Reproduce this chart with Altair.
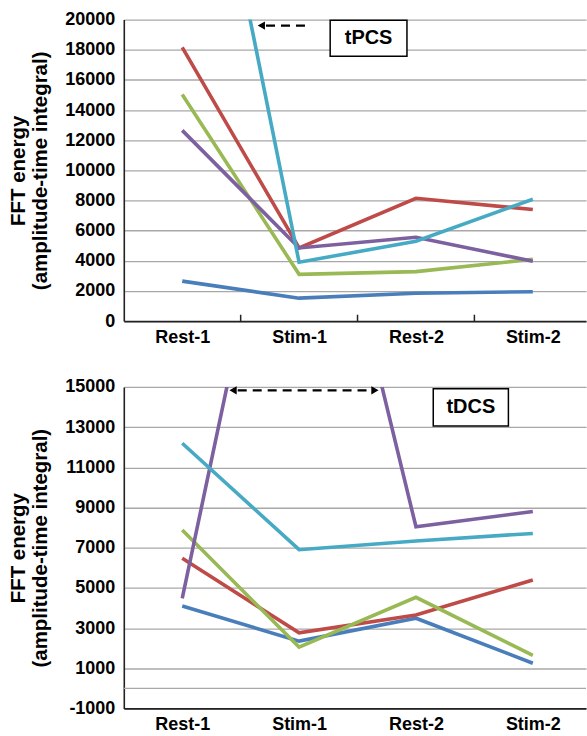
import altair as alt
import pandas as pd

categories = ["Rest-1", "Stim-1", "Rest-2", "Stim-2"]
series_names = ["S1", "S2", "S3", "S4", "S5"]
series_colors = ["#4A7EBB", "#BE4B48", "#98B954", "#7D60A0", "#46AAC5"]

# tPCS panel (cyan Rest-1 is off the top of the axis)
tpcs_blue = [2650, 1520, 1850, 1950]
tpcs_red = [18160, 4850, 8150, 7400]
tpcs_green = [15030, 3100, 3280, 4100]
tpcs_purple = [12650, 4850, 5560, 3970]
tpcs_cyan = [42300, 3900, 5300, 8080]

# tDCS panel (purple Stim-1 is off the top of the axis)
tdcs_blue = [4100, 2350, 3490, 1250]
tdcs_red = [6470, 2760, 3650, 5390]
tdcs_green = [7880, 2050, 4530, 1640]
tdcs_purple = [4480, 32000, 8040, 8800]
tdcs_cyan = [12200, 6900, 7330, 7710]

y_title = ["FFT energy", "(amplitude-time integral)"]
tpcs_ticks = list(range(0, 20001, 2000))
tdcs_ticks = list(range(-1000, 15001, 2000))
band_ticks = [0.5, 1.5, 2.5]

# annotations (data coordinates)
tpcs_label = {"text": "tPCS", "x": 1.266, "x2": 1.923, "y": 19950, "y2": 17570}
tpcs_arrow = {"y": 19600, "x_from": 1.08, "x_tip": 0.677}
tdcs_label = {"text": "tDCS", "x": 2.148, "x2": 2.791, "y": 14915, "y2": 13062}
tdcs_arrow = {"y": 14831, "x_left": 0.435, "x_right": 1.649}

X_DOMAIN = [-0.5, 3.455]
FONT = "Liberation Sans"
label_expr = "[" + ",".join("'%s'" % c for c in categories) + "][datum.value]"


def long_df(vals_list):
    rows = []
    for k, (s, vals) in enumerate(zip(series_names, vals_list)):
        for i, v in enumerate(vals):
            rows.append({"series": s, "pos": i, "value": v, "k": k})
    return pd.DataFrame(rows)


def panel(vals_list, domain, yticks, height, label, arrows, tick_layer=False, zero_rule=False):
    df = long_df(vals_list)
    x = alt.X("pos:Q", scale=alt.Scale(domain=X_DOMAIN, nice=False, zero=False),
              axis=alt.Axis(values=[0, 1, 2, 3], labelExpr=label_expr, ticks=False, grid=False,
                            title=None, labelFontSize=18, labelFontWeight="bold", labelPadding=7,
                            labelFont=FONT, labelColor="black", domainColor="#222", domainWidth=1.6))
    y = alt.Y("value:Q", scale=alt.Scale(domain=domain, nice=False, zero=False),
              axis=alt.Axis(values=yticks, title=y_title, ticks=False, labelFontSize=18,
                            labelExpr="'' + datum.value", labelOverlap=False,
                            labelFontWeight="bold", labelFont=FONT, labelColor="black", labelPadding=9,
                            titleFont=FONT, titleFontSize=20.5, titleFontWeight="bold", titleColor="black",
                            titleLineHeight=22, titlePadding=14, domainColor="#222", domainWidth=1.6,
                            gridColor="#a8a8a8", gridWidth=1.3))
    lines = alt.Chart(df).mark_line(clip=True, strokeWidth=3.6).encode(
        x=x, y=y,
        color=alt.Color("series:N", scale=alt.Scale(domain=series_names, range=series_colors), legend=None),
        order=alt.Order("pos:Q"),
    )
    layers = []
    if zero_rule:
        layers.append(alt.Chart(pd.DataFrame({"value": [0]})).mark_rule(color="#a8a8a8", strokeWidth=1.3)
                      .encode(y=y))
    layers.append(lines)
    if tick_layer:
        tdf = pd.DataFrame({"pos": band_ticks, "value": [domain[0]] * 3, "value2": [domain[0] + 420] * 3})
        layers.append(alt.Chart(tdf).mark_rule(color="#222", strokeWidth=1.5)
                      .encode(x=x, y=y, y2="value2:Q"))
    bdf = pd.DataFrame([{"pos": label["x"], "pos2": label["x2"], "value": label["y"],
                         "value2": label["y2"], "text": label["text"]}])
    cdf = pd.DataFrame([{"pos": (label["x"] + label["x2"]) / 2, "value": (label["y"] + label["y2"]) / 2,
                         "text": label["text"]}])
    layers.append(alt.Chart(bdf).mark_rect(fill="white", stroke="black", strokeWidth=1.5)
                  .encode(x=x, x2="pos2:Q", y=y, y2="value2:Q"))
    layers.append(alt.Chart(cdf).mark_text(font=FONT, fontSize=20, fontWeight="bold", color="black")
                  .encode(x=x, y=y, text="text:N"))
    for kind, a, b, yv, shape in arrows:
        if kind == "dash":
            d = pd.DataFrame({"pos": [a], "pos2": [b], "value": [yv]})
            layers.append(alt.Chart(d).mark_rule(color="black", strokeWidth=2.2, strokeDash=[9, 6])
                          .encode(x=x, x2="pos2:Q", y=y))
        else:
            d = pd.DataFrame({"pos": [a], "value": [yv]})
            layers.append(alt.Chart(d).mark_point(shape=shape, filled=True, color="black", size=70, opacity=1)
                          .encode(x=x, y=y))
    return alt.layer(*layers).properties(width=463, height=height)


top_arrows = [("dash", tpcs_arrow["x_tip"] + 0.04, tpcs_arrow["x_from"], tpcs_arrow["y"], None),
              ("head", tpcs_arrow["x_tip"], None, tpcs_arrow["y"], "triangle-left")]
bot_arrows = [("dash", tdcs_arrow["x_left"] + 0.04, tdcs_arrow["x_right"] - 0.04, tdcs_arrow["y"], None),
              ("head", tdcs_arrow["x_left"], None, tdcs_arrow["y"], "triangle-left"),
              ("head", tdcs_arrow["x_right"], None, tdcs_arrow["y"], "triangle-right")]

top = panel([tpcs_blue, tpcs_red, tpcs_green, tpcs_purple, tpcs_cyan], [0, 20000], tpcs_ticks, 302,
            tpcs_label, top_arrows, tick_layer=True)
bottom = panel([tdcs_blue, tdcs_red, tdcs_green, tdcs_purple, tdcs_cyan], [-1000, 15000], tdcs_ticks, 322,
               tdcs_label, bot_arrows, zero_rule=True)

chart = alt.vconcat(top, bottom, spacing=32).properties(
    padding={"left": 8, "top": 10, "right": 0, "bottom": 0},
    background="white",
).configure_view(stroke=None)

chart.save("out.html", embed_options={"renderer": "svg", "actions": False})
